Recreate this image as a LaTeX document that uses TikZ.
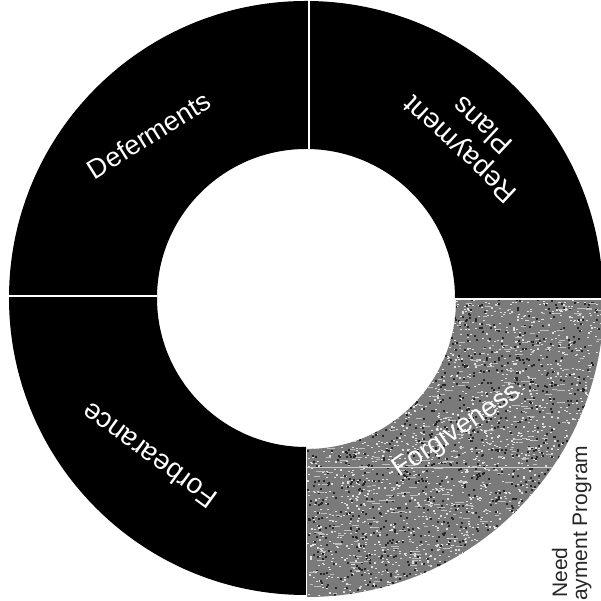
\documentclass[tikz,border=0pt]{standalone}
\usepackage{fontspec}
\setmainfont{Liberation Sans}
\begin{document}
\begin{tikzpicture}[x=1pt,y=1pt,
  ringlabel/.style={text=white, font=\fontsize{27}{29}\selectfont, align=center, inner sep=0pt},
  sidelabel/.style={text=black!85, font=\fontsize{21}{23}\selectfont, inner sep=0pt, rotate=90, anchor=base west},
  divider/.style={draw=white, line width=1.4pt}]
\useasboundingbox (0,0) rectangle (601,601);
\fill[white] (0,0) rectangle (601,601);
% black quadrants
\begin{scope}[shift={(306,303)}]
  \fill[black] (90:297) arc[start angle=90,end angle=180,radius=297] -- (180:149) arc[start angle=180,end angle=90,radius=149] -- cycle;
  \fill[black] (0:297) arc[start angle=0,end angle=90,radius=297] -- (90:149) arc[start angle=90,end angle=0,radius=149] -- cycle;
  \fill[black] (180:297) arc[start angle=180,end angle=270,radius=297] -- (270:149) arc[start angle=270,end angle=180,radius=149] -- cycle;
\end{scope}
% grey textured quadrant
\begin{scope}[shift={(307,301)}]
  \fill[black!52] (270:297) arc[start angle=270,end angle=360,radius=297] -- (0:149) arc[start angle=0,end angle=-90,radius=149] -- cycle;
  \begin{scope}
    \clip (270:297) arc[start angle=270,end angle=360,radius=297] -- (0:149) arc[start angle=0,end angle=-90,radius=149] -- cycle;
    \pgfmathsetseed{7}
    \foreach \i in {1,...,2600} {
      \fill[white!88!black] ({rnd*297},{-rnd*297}) rectangle ++(2,1.2);
    }
    \foreach \i in {1,...,1400} {
      \fill[black!85] ({rnd*297},{-rnd*297}) rectangle ++(2,2);
    }
    \foreach \i in {1,...,500} {
      \fill[white!75!black] ({rnd*297},{-rnd*297}) rectangle ++({2+rnd*7},1);
    }
    \draw[white!80!black, line width=1pt] (0,-168) -- (300,-168);
  \end{scope}
\end{scope}
% dividers
\draw[divider] (309,452) -- (309,601);
\draw[divider] (9,305) -- (157,305);
\draw[divider] (455,301.5) -- (603,301.5);
\draw[divider] (306.5,4) -- (306.5,152);
% labels
\node[ringlabel, rotate=32] (def) at (149,466) {Deferments};
\node[ringlabel, rotate=137, font=\fontsize{28}{33}\selectfont] (rep) at (471,463) {Repayment\\Plans};
\node[ringlabel, rotate=144, font=\fontsize{28}{30}\selectfont] (forb) at (149,145) {Forbearance};
\node[ringlabel, rotate=34] (forg) at (457,170) {Forgiveness};
\node[sidelabel] (need) at (567,3) {Need};
\node[sidelabel] (pay) at (587,0) {ayment Program};
\end{tikzpicture}
\end{document}
